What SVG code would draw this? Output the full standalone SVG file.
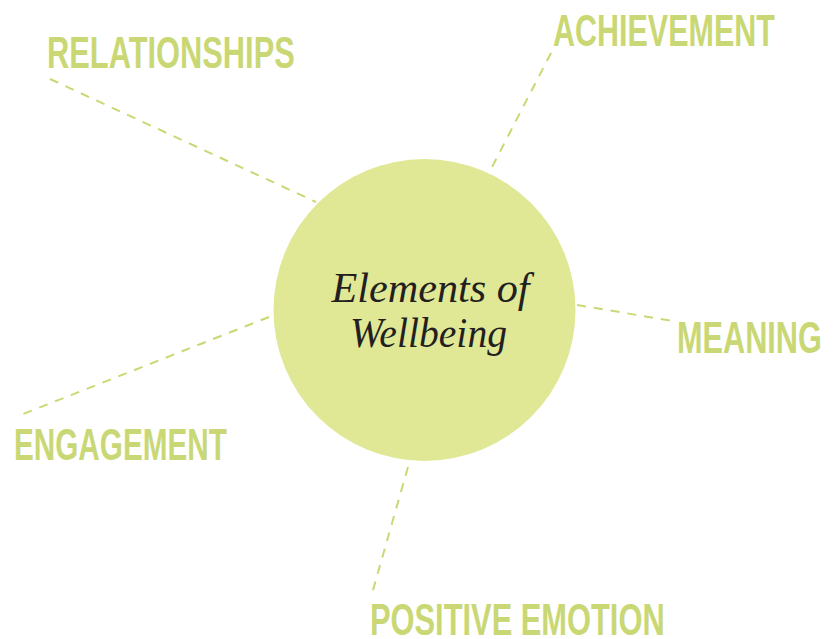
<svg xmlns="http://www.w3.org/2000/svg" width="837" height="639" viewBox="0 0 837 639">
<style>
.lbl{font-family:"Liberation Sans",Arial,sans-serif;font-weight:bold;font-size:44px;fill:#c9d874}
.conn line{stroke:#c9d874;stroke-width:2;stroke-dasharray:9 8;fill:none}
.ctr{font-family:"Liberation Serif","DejaVu Serif",serif;font-style:italic;font-size:42px;fill:#231f20}
</style>
<rect width="837" height="639" fill="#ffffff"/>
<g id="connectors" class="conn">
<line x1="50" y1="79" x2="316" y2="202"/>
<line x1="551" y1="53" x2="491" y2="169"/>
<line x1="577" y1="305" x2="673" y2="321"/>
<line x1="269" y1="317" x2="18" y2="416"/>
<line x1="408" y1="467" x2="371" y2="597"/>
</g>
<g id="center">
<circle cx="424.5" cy="310" r="151" fill="#e0e896"/>
<text class="ctr" x="430.5" y="302" text-anchor="middle" textLength="198" lengthAdjust="spacingAndGlyphs">Elements of</text>
<text class="ctr" x="428.5" y="347" text-anchor="middle" textLength="157" lengthAdjust="spacingAndGlyphs">Wellbeing</text>
</g>
<g id="relationships"><text class="lbl" transform="translate(47,68) scale(0.7,1)" x="0" y="0" textLength="354" lengthAdjust="spacingAndGlyphs">RELATIONSHIPS</text></g>
<g id="achievement"><text class="lbl" transform="translate(553,46) scale(0.7,1)" x="0" y="0" textLength="317" lengthAdjust="spacingAndGlyphs">ACHIEVEMENT</text></g>
<g id="meaning"><text class="lbl" transform="translate(677,353) scale(0.7,1)" x="0" y="0" textLength="207" lengthAdjust="spacingAndGlyphs">MEANING</text></g>
<g id="engagement"><text class="lbl" transform="translate(14,460) scale(0.7,1)" x="0" y="0" textLength="304" lengthAdjust="spacingAndGlyphs">ENGAGEMENT</text></g>
<g id="positive-emotion"><text class="lbl" transform="translate(370,635) scale(0.7,1)" x="0" y="0" textLength="421" lengthAdjust="spacingAndGlyphs">POSITIVE EMOTION</text></g>
</svg>
